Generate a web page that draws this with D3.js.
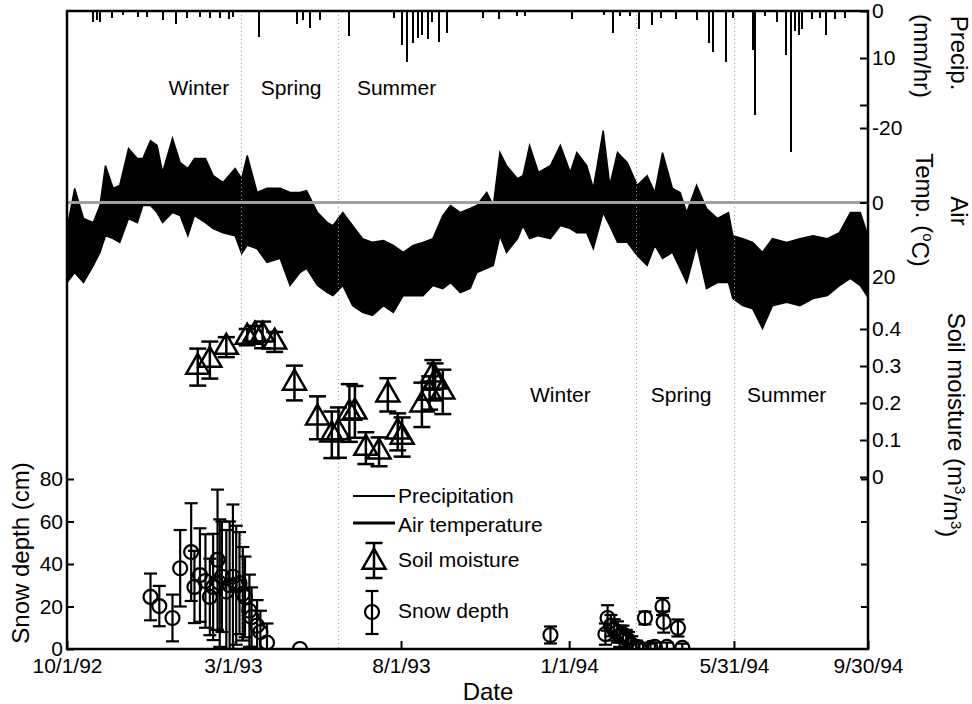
<!DOCTYPE html>
<html>
<head>
<meta charset="utf-8">
<script src="https://cdnjs.cloudflare.com/ajax/libs/d3/7.8.5/d3.min.js"></script>
<style>
body { margin: 0; background: #fff; }
svg text { font-family: "Liberation Sans", Arial, sans-serif; fill: #000; }
</style>
</head>
<body>
<div id="chart"></div>
<script>
var parseDate = d3.timeParse("%Y-%m-%d");
var startDate = parseDate("1992-10-01");
var endDate = parseDate("1994-09-30");

var tickDates = ["1992-10-01", "1993-03-01", "1993-08-01", "1994-01-01", "1994-05-31", "1994-09-30"];
var tickLabels = ["10/1/92", "3/1/93", "8/1/93", "1/1/94", "5/31/94", "9/30/94"];

// season boundaries and where the season names sit (days since 10/1/92)
var seasonBounds = ["1993-03-08", "1993-06-05", "1994-03-03", "1994-05-31"];
var seasonNames = ["Winter", "Spring", "Summer", "Winter", "Spring", "Summer"];
var seasonLabelDay = [120, 204, 300, 449, 559, 655];

// air temperature envelope (deg C), days since 10/1/92
var tempDay = [0, 7, 15, 24, 30, 35, 42, 48, 56, 64, 69, 76, 82, 87, 96, 103, 110, 116, 126, 133,
  142, 153, 159, 164, 173, 182, 194, 203, 212, 218, 228, 237, 242, 251, 260, 269, 278, 288, 297, 306,
  315, 324, 333, 342, 349, 358, 367, 373, 382, 388, 394, 400, 410, 415, 421, 429, 440, 449, 458, 464,
  473, 479, 488, 494, 501, 510, 519, 528, 535, 542, 551, 558, 564, 573, 582, 592, 602, 606, 615, 624,
  633, 642, 655, 667, 679, 692, 703, 713, 722, 728];
var tempMin = [7.0, -3.8, 4.3, 5.4, 0.8, -9.9, -3.8, -4.6, -14.5, -11.8, -11.8, -16.6, -15.3, -8.1, -17.2, -10.7, -9.1, -11.8, -11.8, -7.2,
  -5.4, -9.1, -6.4, -12.6, -2.7, -3.8, -3.8, -2.7, -2.7, -3.2, 2.7, 5.4, 6.2, 2.7, 6.2, 9.7, 10.7, 10.2, 11.5, 13.4,
  11.5, 10.7, 9.7, 3.5, 0.8, 2.7, 1.6, 0.8, -2.7, 0.8, -13.4, -9.9, -6.4, -7.2, -15.3, -8.1, -9.9, -15.3, -8.1, -13.4,
  -9.9, -3.8, -19.3, -4.6, -13.4, -10.7, -4.6, -7.2, -2.7, -13.4, -3.8, -2.7, 2.7, -4.6, 1.6, 4.3, 2.7, 8.9, 9.7, 10.7,
  13.4, 9.7, 10.7, 9.7, 8.9, 9.7, 8.1, 2.7, 2.7, 8.1];
var tempMax = [21.5, 18.8, 21.5, 16.9, 13.4, 8.9, 9.7, 10.7, 4.3, 5.4, 0.8, 0.8, 2.7, 5.4, 2.7, 3.5, 8.9, 3.5, 5.4, 7.0,
  8.1, 8.9, 13.7, 11.5, 12.4, 16.1, 15.0, 22.3, 18.8, 17.7, 22.3, 24.2, 25.0, 22.3, 27.7, 29.5, 30.3, 27.7, 29.5, 25.0,
  25.0, 25.0, 22.3, 23.1, 21.5, 24.2, 23.1, 18.8, 17.7, 16.9, 8.9, 13.4, 9.7, 6.2, 9.7, 8.9, 9.7, 6.2, 7.0, 8.1,
  8.1, 12.4, 2.7, 6.2, 10.7, 10.7, 14.2, 16.9, 11.5, 15.0, 13.4, 17.7, 21.5, 11.5, 23.1, 21.5, 21.5, 25.8, 27.7, 28.5,
  33.8, 27.7, 26.8, 27.7, 25.8, 25.0, 22.3, 20.4, 22.3, 25.0];

// precipitation spikes (mm/hr)
var precipDay = [24, 27, 30, 41, 51, 65, 73, 87, 99, 109, 121, 130, 139, 147, 151, 175, 209, 215, 221, 230,
  257, 298, 305, 309, 315, 319, 323, 329, 332, 339, 346, 379, 393, 410, 417, 460, 489, 497, 503, 512,
  521, 532, 541, 554, 573, 584, 588, 600, 606, 624, 626, 635, 646, 654, 659, 663, 666, 669, 678, 685,
  691, 699, 708];
var precipRate = [2.3, 2.0, 2.3, 1.5, 0.8, 1.3, 1.2, 2.0, 2.7, 1.5, 1.3, 1.5, 1.4, 1.6, 1.2, 5.5, 2.8, 2.0, 3.6, 2.0,
  5.3, 1.5, 7.2, 10.8, 6.8, 5.7, 5.1, 6.0, 2.3, 6.6, 4.7, 1.5, 1.7, 1.0, 1.0, 1.7, 0.8, 4.7, 1.0, 1.0,
  3.9, 3.0, 1.5, 1.7, 2.0, 6.8, 8.7, 10.8, 1.5, 8.3, 22.1, 1.0, 2.3, 9.4, 30.0, 4.2, 5.0, 3.8, 1.7, 1.5,
  5.1, 1.8, 1.5];

// soil moisture (m3/m3), mean and error
var soilDay = [119, 130, 145, 164, 171, 178, 189, 207, 228, 241, 247, 257, 262, 272, 284, 292, 301, 305, 323, 330, 333, 335, 342];
var soilMean = [0.297, 0.316, 0.351, 0.378, 0.384, 0.384, 0.365, 0.254, 0.160, 0.114, 0.120, 0.173, 0.176, 0.078, 0.068, 0.222, 0.122, 0.108, 0.195, 0.227, 0.276, 0.257, 0.230];
var soilErr = [0.050, 0.050, 0.027, 0.022, 0.024, 0.036, 0.027, 0.047, 0.058, 0.063, 0.068, 0.078, 0.070, 0.043, 0.039, 0.045, 0.050, 0.053, 0.060, 0.045, 0.040, 0.050, 0.060];

// snow depth (cm), mean and error
var snowDay = [76, 84, 96, 103, 113, 116, 121, 126, 130, 133, 137, 139, 141, 145, 148, 151, 154, 157, 160, 162,
  166, 168, 173, 176, 182, 212,
  440, 490, 492, 495, 498, 501, 503, 506, 509, 511, 514, 518, 521, 526, 531, 535, 542, 543, 546, 556, 560];
var snowMean = [24.5, 20.2, 14.6, 38, 45.6, 29.2, 34.8, 32, 24.5, 29.2, 42, 31, 34, 27, 30, 34, 30, 31, 26, 24.5,
  18, 15, 11, 8, 3, 0,
  6.6, 7, 14.6, 11, 9, 8, 6, 7, 5, 4, 2, 1, 0.5, 14.6, 0.5, 1, 20, 12.7, 1, 9.9, 0.5];
var snowErr = [11, 9.5, 11, 18, 23, 17, 22, 22, 18, 25, 33, 30, 26, 29, 30, 34, 28, 24, 22, 19,
  17, 14, 12, 10, 9, 0,
  4, 5, 6, 5, 5, 5, 5, 4, 4, 4, 4, 3, 2, 3, 2, 2, 4, 5, 2, 4, 2];

var legendNames = ["Precipitation", "Air temperature", "Soil moisture", "Snow depth"];

var render = function() {
  let margin = { top: 11, left: 67 };
  let width = 801;
  let height = 638;

  let chart = d3.select("#chart");
  chart.html("");

  let svg = chart.append("svg")
    .attr("width", 972)
    .attr("height", 704);

  let g = svg.append("g")
    .attr("transform", "translate(" + margin.left + "," + margin.top + ")");

  let dayDate = function(d) { return d3.timeDay.offset(startDate, d); };

  let x = d3.scaleTime().domain([startDate, endDate]).range([0, width]);
  let precipScale = d3.scaleLinear().domain([0, 10]).range([0, 47]);
  let tempScale = d3.scaleLinear().domain([-20, 20]).range([117, 266]);
  let soilScale = d3.scaleLinear().domain([0, 0.4]).range([466, 318]);
  let snowScale = d3.scaleLinear().domain([0, 80]).range([height, 468]);

  g.append("clipPath").attr("id", "clip")
    .append("rect").attr("width", width).attr("height", height);

  let plot = g.append("g").attr("clip-path", "url(#clip)");

  // precipitation hanging from the top
  plot.selectAll(".precip")
    .data(precipDay)
    .enter()
    .append("line")
    .attr("x1", (d) => Math.round(x(dayDate(d))))
    .attr("x2", (d) => Math.round(x(dayDate(d))))
    .attr("y1", precipScale(0))
    .attr("y2", (d, i) => precipScale(precipRate[i]))
    .attr("stroke", "#000")
    .attr("stroke-width", 1.5)
    .attr("shape-rendering", "crispEdges");

  // air temperature trace
  let area = d3.area()
    .x((d) => x(dayDate(d)))
    .y0((d, i) => tempScale(tempMin[i]))
    .y1((d, i) => tempScale(tempMax[i]));

  plot.append("path")
    .datum(tempDay)
    .attr("d", area)
    .attr("fill", "#000")
    .attr("stroke", "#000")
    .attr("stroke-width", 1.5)
    .attr("stroke-linejoin", "miter");

  // season boundaries
  plot.selectAll(".season")
    .data(seasonBounds)
    .enter()
    .append("line")
    .attr("x1", (d) => Math.round(x(parseDate(d))) + 0.5)
    .attr("x2", (d) => Math.round(x(parseDate(d))) + 0.5)
    .attr("y1", 0)
    .attr("y2", height)
    .attr("stroke", "#999")
    .attr("stroke-width", 1)
    .attr("stroke-dasharray", "1,3");

  // 0 deg C line
  plot.append("line")
    .attr("x1", 0).attr("x2", width)
    .attr("y1", tempScale(0)).attr("y2", tempScale(0))
    .attr("stroke", "#a0a0a0")
    .attr("stroke-width", 3);

  g.selectAll(".seasonName")
    .data(seasonNames)
    .enter()
    .append("text")
    .attr("x", (d, i) => x(dayDate(seasonLabelDay[i])))
    .attr("y", (d, i) => i < 3 ? 84 : 391)
    .attr("text-anchor", "middle")
    .style("font-size", "21px")
    .text((d) => d);

  let triangle = d3.symbol().type(d3.symbolTriangle).size(229);

  let errBar = function(sel, cx, lo, hi, cap) {
    sel.append("line").attr("x1", cx).attr("x2", cx).attr("y1", lo).attr("y2", hi);
    sel.append("line").attr("x1", cx - cap / 2).attr("x2", cx + cap / 2).attr("y1", lo).attr("y2", lo);
    sel.append("line").attr("x1", cx - cap / 2).attr("x2", cx + cap / 2).attr("y1", hi).attr("y2", hi);
  };

  // soil moisture
  let soil = plot.append("g")
    .attr("stroke", "#000")
    .attr("stroke-width", 2.5)
    .attr("fill", "none");

  soilDay.forEach(function(d, i) {
    let cx = x(dayDate(d));
    let s = soil.append("g");
    errBar(s, cx, soilScale(soilMean[i] - soilErr[i]), soilScale(soilMean[i] + soilErr[i]), 17);
    s.append("path")
      .attr("d", triangle)
      .attr("transform", "translate(" + cx + "," + soilScale(soilMean[i]) + ")");
  });

  // snow depth
  let snow = plot.append("g")
    .attr("stroke", "#000")
    .attr("stroke-width", 2.2)
    .attr("fill", "none");

  snowDay.forEach(function(d, i) {
    let cx = x(dayDate(d));
    let s = snow.append("g");
    if (snowErr[i] > 0) {
      errBar(s, cx, snowScale(snowMean[i] - snowErr[i]), snowScale(snowMean[i] + snowErr[i]), 13);
    }
    s.append("circle")
      .attr("cx", cx)
      .attr("cy", snowScale(snowMean[i]))
      .attr("r", 7);
  });

  // legend
  let legend = g.append("g");
  legend.append("line").attr("x1", 286).attr("x2", 328).attr("y1", 485).attr("y2", 485)
    .attr("stroke", "#000").attr("stroke-width", 1.2).attr("shape-rendering", "crispEdges");
  legend.append("line").attr("x1", 286).attr("x2", 328).attr("y1", 512).attr("y2", 512)
    .attr("stroke", "#000").attr("stroke-width", 3);
  let ls = legend.append("g").attr("stroke", "#000").attr("stroke-width", 2.5).attr("fill", "none");
  errBar(ls, 307, 567, 532, 17);
  ls.append("path").attr("d", triangle).attr("transform", "translate(307,551)");
  let ln = legend.append("g").attr("stroke", "#000").attr("stroke-width", 2.2).attr("fill", "none");
  errBar(ln, 305, 623, 580, 13);
  ln.append("circle").attr("cx", 305).attr("cy", 601).attr("r", 7);

  legend.selectAll(".legText")
    .data(legendNames)
    .enter()
    .append("text")
    .attr("x", 331)
    .attr("y", (d, i) => [492, 521, 556, 607][i])
    .style("font-size", "21px")
    .text((d) => d);

  // axes
  let styleAxis = function(ax) {
    ax.select(".domain").remove();
    ax.selectAll(".tick line").attr("stroke-width", 2);
    ax.selectAll(".tick text").style("font-size", "21px").attr("fill", "#000");
  };

  let xAxis = d3.axisBottom(x)
    .tickValues(tickDates.map(parseDate))
    .tickFormat((d, i) => tickLabels[i])
    .tickSizeInner(-8)
    .tickSizeOuter(0)
    .tickPadding(9);
  g.append("g").attr("transform", "translate(0," + height + ")").call(xAxis).call(styleAxis);

  let snowAxis = d3.axisLeft(snowScale)
    .tickValues([0, 20, 40, 60, 80])
    .tickSizeInner(-7)
    .tickSizeOuter(0)
    .tickPadding(4);
  g.append("g").call(snowAxis).call(styleAxis);

  let snowAxisR = d3.axisRight(snowScale)
    .tickValues([20, 40, 60, 80])
    .tickFormat("")
    .tickSizeInner(-7)
    .tickSizeOuter(0);
  g.append("g").attr("transform", "translate(" + width + ",0)").call(snowAxisR).call(styleAxis);

  let precipAxis = d3.axisRight(precipScale)
    .tickValues([0, 10, 20])
    .tickFormat((d) => d === 20 ? "" : String(d))
    .tickSizeInner(-8)
    .tickSizeOuter(0)
    .tickPadding(4);
  g.append("g").attr("transform", "translate(" + width + ",0)").call(precipAxis).call(styleAxis);

  let tempAxis = d3.axisRight(tempScale)
    .tickValues([-20, 0, 20])
    .tickFormat((d) => String(d))
    .tickSizeInner(-8)
    .tickSizeOuter(0)
    .tickPadding(4);
  g.append("g").attr("transform", "translate(" + width + ",0)").call(tempAxis).call(styleAxis);

  let soilAxis = d3.axisRight(soilScale)
    .tickValues([0, 0.1, 0.2, 0.3, 0.4])
    .tickFormat((d) => d === 0 ? "0" : d3.format(".1f")(d))
    .tickSizeInner(-8)
    .tickSizeOuter(0)
    .tickPadding(4);
  g.append("g").attr("transform", "translate(" + width + ",0)").call(soilAxis).call(styleAxis);

  // the frame
  g.append("rect")
    .attr("width", width)
    .attr("height", height)
    .attr("fill", "none")
    .attr("stroke", "#000")
    .attr("stroke-width", 2.5);

  // axis titles
  g.append("text")
    .attr("x", 421).attr("y", 689)
    .attr("text-anchor", "middle")
    .style("font-size", "24px")
    .text("Date");

  svg.append("text")
    .attr("transform", "translate(29,553) rotate(-90)")
    .attr("text-anchor", "middle")
    .style("font-size", "24px")
    .text("Snow depth (cm)");

  svg.append("text")
    .attr("transform", "translate(951,53) rotate(90)")
    .attr("text-anchor", "middle")
    .style("font-size", "24px")
    .text("Precip.");
  svg.append("text")
    .attr("transform", "translate(914,56) rotate(90)")
    .attr("text-anchor", "middle")
    .style("font-size", "24px")
    .text("(mm/hr)");

  svg.append("text")
    .attr("transform", "translate(951,211) rotate(90)")
    .attr("text-anchor", "middle")
    .style("font-size", "24px")
    .text("Air");
  let tt = svg.append("text")
    .attr("transform", "translate(916,210) rotate(90)")
    .attr("text-anchor", "middle")
    .style("font-size", "24px");
  tt.append("tspan").text("Temp. (");
  tt.append("tspan").attr("dy", "-0.45em").style("font-size", "15px").text("o");
  tt.append("tspan").attr("dy", "0.45em").text("C)");

  let st = svg.append("text")
    .attr("transform", "translate(948,425) rotate(90)")
    .attr("text-anchor", "middle")
    .style("font-size", "24px");
  st.append("tspan").text("Soil moisture (m");
  st.append("tspan").attr("dy", "-0.45em").style("font-size", "15px").text("3");
  st.append("tspan").attr("dy", "0.45em").text("/m");
  st.append("tspan").attr("dy", "-0.45em").style("font-size", "15px").text("3");
  st.append("tspan").attr("dy", "0.45em").text(")");
};

render();
</script>
</body>
</html>
